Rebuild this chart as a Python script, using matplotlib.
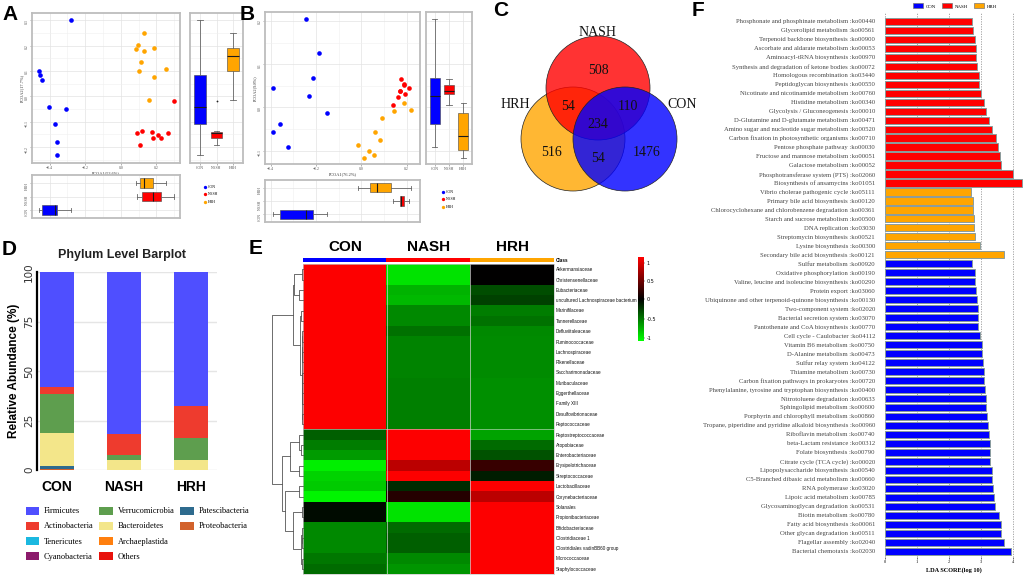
import numpy as np
import matplotlib
matplotlib.use("Agg")
import matplotlib.pyplot as plt
from matplotlib.patches import Circle, Patch
from matplotlib.lines import Line2D
from matplotlib.colors import LinearSegmentedColormap, ListedColormap, TwoSlopeNorm
from matplotlib.ticker import AutoMinorLocator

W, H = 1024, 576
SERIF = ["Liberation Serif", "DejaVu Serif"]
SANS = ["Liberation Sans", "DejaVu Sans"]

groups = ["CON", "NASH", "HRH"]
group_colors = ["#0000FF", "#FF0000", "#FFA500"]

# A: PCoA, first data set
a_con_x = [-0.278, -0.458, -0.452, -0.443, -0.402, -0.310, -0.368, -0.357, -0.357]
a_con_y = [0.300, 0.099, 0.086, 0.064, -0.041, -0.049, -0.108, -0.180, -0.230]
a_nash_x = [0.299, 0.093, 0.120, 0.107, 0.174, 0.209, 0.183, 0.226, 0.266]
a_nash_y = [-0.020, -0.145, -0.136, -0.191, -0.139, -0.151, -0.166, -0.166, -0.146]
a_hrh_x = [0.133, 0.099, 0.084, 0.133, 0.189, 0.114, 0.103, 0.254, 0.189, 0.161]
a_hrh_y = [0.250, 0.203, 0.187, 0.178, 0.192, 0.137, 0.099, 0.109, 0.075, -0.013]

# B: PCoA, second data set
b_con_x = [-0.246, -0.188, -0.215, -0.390, -0.229, -0.150, -0.360, -0.390, -0.325]
b_con_y = [0.205, 0.125, 0.069, 0.044, 0.026, -0.012, -0.039, -0.058, -0.091]
b_nash_x = [0.175, 0.187, 0.189, 0.212, 0.169, 0.172, 0.194, 0.160, 0.141]
b_nash_y = [0.066, 0.054, 0.051, 0.045, 0.039, 0.038, 0.032, 0.025, 0.005]
b_hrh_x = [0.187, 0.219, 0.146, 0.090, 0.060, 0.081, -0.015, 0.035, 0.057, 0.013]
b_hrh_y = [0.011, -0.005, -0.009, -0.024, -0.058, -0.075, -0.088, -0.101, -0.110, -0.118]

# C: Venn counts
venn_sets = ["NASH", "HRH", "CON"]
only_nash, only_hrh, only_con = 508, 516, 1476
nash_hrh, nash_con, hrh_con, all_three = 54, 110, 54, 234

# D: phylum level relative abundance (%), order CON / NASH / HRH
phyla = ["Firmicutes", "Actinobacteria", "Tenericutes", "Cyanobacteria",
         "Verrucomicrobia", "Bacteroidetes", "Archaeplastida", "Others",
         "Patescibacteria", "Proteobacteria"]
phylum_colors = ["#4F4FFF", "#EE3B2E", "#1BB8E0", "#8B1A6B", "#5E9E4E",
                 "#F3E68A", "#FF7F0E", "#E8120C", "#2E6B8E", "#D2622C"]
firmicutes = [58.2, 82.0, 67.6]
actinobacteria = [3.4, 10.5, 16.4]
tenericutes = [0.0, 0.0, 0.0]
cyanobacteria = [0.0, 0.0, 0.0]
verrucomicrobia = [19.9, 2.5, 11.1]
bacteroidetes = [16.7, 4.9, 4.9]
archaeplastida = [0.0, 0.0, 0.0]
others = [0.0, 0.0, 0.0]
patescibacteria = [1.3, 0.0, 0.0]
proteobacteria = [0.5, 0.1, 0.0]

# E: family heatmap (row z-scores)
families = ["Akkermansiaceae", "Christensenellaceae", "Eubacteriaceae",
            "uncultured Lachnospiraceae bacterium", "Marinifilaceae", "Tannerellaceae",
            "Defluviitaleaceae", "Ruminococcaceae", "Lachnospiraceae", "Rikenellaceae",
            "Saccharimonadaceae", "Muribaculaceae", "Eggerthellaceae", "Family XIII",
            "Desulfovibrionaceae", "Peptococcaceae", "Peptostreptococcaceae", "Atopobiaceae",
            "Enterobacteriaceae", "Erysipelotrichaceae", "Streptococcaceae", "Lactobacillaceae",
            "Corynebacteriaceae", "Solanales", "Propionibacteriaceae", "Bifidobacteriaceae",
            "Clostridiaceae 1", "Clostridiales vadinBB60 group", "Micrococcaceae",
            "Staphylococcaceae"]
e_con = [1.15, 1.15, 1.15, 1.15, 1.15, 1.15, 1.15, 1.15, 1.15, 1.15, 1.15, 1.15, 1.15, 1.15, 1.15, 1.15,
         -0.40, -0.52, -0.65, -1.00, -0.88, -0.85, -1.02, -0.05, -0.05, -0.57, -0.57, -0.57, -0.50, -0.45]
e_nash = [-0.95, -0.95, -0.75, -0.77, -0.57, -0.57, -0.47, -0.55, -0.55, -0.55, -0.55, -0.53, -0.53, -0.53, -0.53, -0.53,
          1.15, 1.15, 1.15, 0.85, 1.15, -0.18, 0.17, -0.95, -0.95, -0.45, -0.40, -0.40, -0.57, -0.62]
e_hrh = [0.00, 0.00, -0.32, -0.27, -0.52, -0.48, -0.57, -0.58, -0.58, -0.58, -0.58, -0.60, -0.60, -0.60, -0.60, -0.60,
         -0.68, -0.45, -0.35, 0.25, -0.12, 1.15, 0.85, 1.15, 1.15, 1.15, 1.15, 1.15, 1.15, 1.15]
# row dendrogram as nested (height, left, right), leaves are row indices
row_tree = (88,
            (28, (25, (3, 0, 1), (10, 2, 3)),
                 (8, (6, 4, 5), (4, (3, (2, 6, 7), (2, 8, 9)),
                                 (4, (3, (2, 10, 11), (2, 12, 13)), (2, 14, 15))))),
            (60, (38, (10, 16, (6, 17, 18)), (12, 19, 20)),
                 (50, (12, 21, 22), (28, (3, 23, 24), (6, (4, 25, (2, 26, 27)), (4, 28, 29))))))

# F: LEfSe LDA scores
nash_paths = ["Phosphonate and phosphinate metabolism :ko00440", "Glycerolipid metabolism :ko00561",
              "Terpenoid backbone biosynthesis :ko00900", "Ascorbate and aldarate metabolism :ko00053",
              "Aminoacyl-tRNA biosynthesis :ko00970", "Synthesis and degradation of ketone bodies :ko00072",
              "Homologous recombination :ko03440", "Peptidoglycan biosynthesis :ko00550",
              "Nicotinate and nicotinamide metabolism :ko00760", "Histidine metabolism :ko00340",
              "Glycolysis / Gluconeogenesis :ko00010", "D-Glutamine and D-glutamate metabolism :ko00471",
              "Amino sugar and nucleotide sugar metabolism :ko00520",
              "Carbon fixation in photosynthetic organisms :ko00710", "Pentose phosphate pathway :ko00030",
              "Fructose and mannose metabolism :ko00051", "Galactose metabolism :ko00052",
              "Phosphotransferase system (PTS) :ko02060", "Biosynthesis of ansamycins :ko01051"]
nash_scores = [2.73, 2.76, 2.83, 2.86, 2.86, 2.89, 2.93, 2.96, 3.02, 3.11, 3.16, 3.25, 3.35, 3.49,
               3.55, 3.61, 3.63, 4.01, 4.29]
hrh_paths = ["Vibrio cholerae pathogenic cycle :ko05111", "Primary bile acid biosynthesis :ko00120",
             "Chlorocyclohexane and chlorobenzene degradation :ko00361",
             "Starch and sucrose metabolism :ko00500", "DNA replication :ko03030",
             "Streptomycin biosynthesis :ko00521", "Lysine biosynthesis :ko00300",
             "Secondary bile acid biosynthesis :ko00121"]
hrh_scores = [2.70, 2.75, 2.76, 2.78, 2.79, 2.81, 2.97, 3.71]
con_paths = ["Sulfur metabolism :ko00920", "Oxidative phosphorylation :ko00190",
             "Valine, leucine and isoleucine biosynthesis :ko00290", "Protein export :ko03060",
             "Ubiquinone and other terpenoid-quinone biosynthesis :ko00130",
             "Two-component system :ko02020", "Bacterial secretion system :ko03070",
             "Pantothenate and CoA biosynthesis :ko00770", "Cell cycle - Caulobacter :ko04112",
             "Vitamin B6 metabolism :ko00750", "D-Alanine metabolism :ko00473",
             "Sulfur relay system :ko04122", "Thiamine metabolism :ko00730",
             "Carbon fixation pathways in prokaryotes :ko00720",
             "Phenylalanine, tyrosine and tryptophan biosynthesis :ko00400",
             "Nitrotoluene degradation :ko00633", "Sphingolipid metabolism :ko00600",
             "Porphyrin and chlorophyll metabolism :ko00860",
             "Tropane, piperidine and pyridine alkaloid biosynthesis :ko00960",
             "Riboflavin metabolism :ko00740", "beta-Lactam resistance :ko00312",
             "Folate biosynthesis :ko00790", "Citrate cycle (TCA cycle) :ko00020",
             "Lipopolysaccharide biosynthesis :ko00540", "C5-Branched dibasic acid metabolism :ko00660",
             "RNA polymerase :ko03020", "Lipoic acid metabolism :ko00785",
             "Glycosaminoglycan degradation :ko00531", "Biotin metabolism :ko00780",
             "Fatty acid biosynthesis :ko00061", "Other glycan degradation :ko00511",
             "Flagellar assembly :ko02040", "Bacterial chemotaxis :ko02030"]
con_scores = [2.73, 2.83, 2.83, 2.84, 2.87, 2.91, 2.92, 2.92, 2.99, 3.03, 3.04, 3.07, 3.10, 3.11,
              3.13, 3.15, 3.17, 3.20, 3.22, 3.25, 3.29, 3.30, 3.30, 3.36, 3.36, 3.39, 3.42, 3.45,
              3.56, 3.63, 3.63, 3.74, 3.94]

fig = plt.figure(figsize=(10.24, 5.76), dpi=100)


def px_axes(x0, y0, x1, y1):
    return fig.add_axes([x0 / W, 1 - y1 / H, (x1 - x0) / W, (y1 - y0) / H])


def panel_label(x, y, s):
    fig.text(x / W, 1 - y / H, s, fontsize=15, fontweight="bold", family=SANS,
             ha="center", va="center")


def gg_style(ax):
    for s in ax.spines.values():
        s.set_color("#BDBDBD")
        s.set_linewidth(1.3)
    ax.grid(True, which="major", color="#E3E3E3", lw=0.5)
    ax.grid(True, which="minor", color="#F0F0F0", lw=0.4)
    ax.set_axisbelow(True)
    ax.tick_params(which="major", length=1.2, width=0.4, color="#777777",
                   labelsize=2.8, labelcolor="#555555", pad=1)
    ax.tick_params(which="minor", length=0)
    for t in ax.get_xticklabels() + ax.get_yticklabels():
        t.set_family(SERIF)


box_kw = dict(widths=0.7, patch_artist=True,
              medianprops=dict(color="#1a1a1a", lw=0.8),
              whiskerprops=dict(color="#666666", lw=0.6),
              capprops=dict(color="#666666", lw=0.6),
              boxprops=dict(edgecolor="#444444", lw=0.4),
              flierprops=dict(marker="o", ms=1.3, mfc="#222222", mec="none"))


def pcoa(xs, ys, frame, side, under, xlim, ylim, xticks, yticks, xlabel, ylabel, leg_xy):
    ax = px_axes(*frame)
    for gx, gy, c in zip(xs, ys, group_colors):
        ax.scatter(gx, gy, s=11, color=c, linewidths=0, zorder=3)
    ax.set_xlim(xlim)
    ax.set_ylim(ylim)
    ax.set_xticks(xticks)
    ax.set_yticks(yticks)
    ax.xaxis.set_minor_locator(AutoMinorLocator(2))
    ax.yaxis.set_minor_locator(AutoMinorLocator(2))
    ax.tick_params(axis="y", labelrotation=90)
    ax.set_xlabel(xlabel, fontsize=3.2, labelpad=1, family=SERIF, color="#333333")
    ax.set_ylabel(ylabel, fontsize=3.2, labelpad=1, family=SERIF, color="#333333")
    gg_style(ax)

    sx = px_axes(*side)
    b1 = sx.boxplot(ys, positions=[1, 2, 3], **box_kw)
    for p, c in zip(b1["boxes"], group_colors):
        p.set_facecolor(c)
    sx.set_ylim(ylim)
    sx.set_xlim(0.4, 3.6)
    sx.set_yticks(yticks)
    sx.set_yticklabels([])
    sx.set_xticks([1, 2, 3])
    sx.set_xticklabels(groups)
    sx.yaxis.set_minor_locator(AutoMinorLocator(2))
    gg_style(sx)
    sx.tick_params(axis="y", length=0)

    ux = px_axes(*under)
    b2 = ux.boxplot(xs, positions=[1, 2, 3], orientation="horizontal", **box_kw)
    for p, c in zip(b2["boxes"], group_colors):
        p.set_facecolor(c)
    ux.set_xlim(xlim)
    ux.set_ylim(0.4, 3.6)
    ux.set_xticks(xticks)
    ux.set_xticklabels([])
    ux.set_yticks([1, 2, 3])
    ux.set_yticklabels(groups)
    ux.xaxis.set_minor_locator(AutoMinorLocator(2))
    ux.tick_params(axis="y", labelrotation=90)
    gg_style(ux)
    ux.tick_params(axis="x", length=0)

    handles = [Line2D([], [], ls="", marker="o", ms=2.4, mfc=c, mec="none") for c in group_colors]
    fig.legend(handles, groups, loc="upper left",
               bbox_to_anchor=(leg_xy[0] / W, 1 - leg_xy[1] / H), frameon=False,
               prop=dict(family=SERIF, size=2.8), handlelength=0.8, handletextpad=0.5,
               labelspacing=0.9, borderpad=0)


# ---- A ----
panel_label(10, 14, "A")
pcoa([a_con_x, a_nash_x, a_hrh_x], [a_con_y, a_nash_y, a_hrh_y],
     (32, 13, 180, 163), (190, 13, 243, 163), (32, 175, 180, 218),
     (-0.499, 0.333), (-0.263, 0.329), [-0.4, -0.2, 0.0, 0.2],
     [-0.2, -0.1, 0.0, 0.1, 0.2, 0.3], "PCOA1(53.6%)", "PCOA2(17.7%)", (201, 183))

# ---- B ----
panel_label(247, 15, "B")
pcoa([b_con_x, b_nash_x, b_hrh_x], [b_con_y, b_nash_y, b_hrh_y],
     (265, 12, 420, 164), (426, 12, 472, 164), (265, 180, 420, 222),
     (-0.425, 0.259), (-0.131, 0.221), [-0.4, -0.2, 0.0, 0.2],
     [-0.1, 0.0, 0.1, 0.2], "PCOA1(76.2%)", "PCOA2(9.8%)", (439, 188))

# ---- C: Venn ----
panel_label(501, 11, "C")
vx = px_axes(500, 20, 700, 200)
vx.set_xlim(500, 700)
vx.set_ylim(200, 20)
vx.axis("off")
for (cx, cy), c in zip([(573, 139), (598, 88), (625, 139)], ["#FFA500", "#FF0000", "#0000FF"]):
    vx.add_patch(Circle((cx, cy), 52, facecolor=c, alpha=0.8, edgecolor="none"))
    vx.add_patch(Circle((cx, cy), 52, facecolor="none", edgecolor="#222222", lw=0.5))
venn_font = dict(family=SERIF, fontsize=10, ha="center", va="center", color="#111111")
vx.text(598, 32, venn_sets[0], **venn_font)
vx.text(515, 105, venn_sets[1], **venn_font)
vx.text(682, 105, venn_sets[2], **venn_font)
for (tx, ty), n in zip([(598, 71), (551, 153), (647, 153), (568, 107), (628, 107), (598, 159), (598, 124)],
                       [only_nash, only_hrh, only_con, nash_hrh, nash_con, hrh_con, all_three]):
    vx.text(tx, ty, str(n), **venn_font)

# ---- D: stacked bars ----
panel_label(9, 249, "D")
fig.text(122 / W, 1 - 255 / H, "Phylum Level Barplot", fontsize=9, fontweight="bold",
         family=SANS, ha="center", va="center", color="#222222")
dx = px_axes(37, 272, 217, 470)
series = {"Firmicutes": firmicutes, "Actinobacteria": actinobacteria, "Tenericutes": tenericutes,
          "Cyanobacteria": cyanobacteria, "Verrucomicrobia": verrucomicrobia,
          "Bacteroidetes": bacteroidetes, "Archaeplastida": archaeplastida, "Others": others,
          "Patescibacteria": patescibacteria, "Proteobacteria": proteobacteria}
stack_order = ["Proteobacteria", "Patescibacteria", "Others", "Cyanobacteria", "Tenericutes",
               "Archaeplastida", "Bacteroidetes", "Verrucomicrobia", "Actinobacteria", "Firmicutes"]
xpos = np.arange(len(groups))
bottom = np.zeros(len(groups))
for name in stack_order:
    vals = np.array(series[name])
    dx.bar(xpos, vals, width=0.5, bottom=bottom, color=phylum_colors[phyla.index(name)], zorder=2)
    bottom += vals
dx.set_xlim(-0.3, 2.39)
dx.set_ylim(0, 100)
dx.set_yticks([0, 25, 50, 75, 100])
dx.set_xticks(xpos)
dx.set_xticklabels(groups, fontsize=10, fontweight="bold", family=SANS)
dx.tick_params(axis="x", length=0, pad=7)
dx.tick_params(axis="y", length=0, labelsize=7.5, labelrotation=90, labelcolor="#333333", pad=2)
for t in dx.get_yticklabels():
    t.set_va("center")
dx.grid(True, axis="y", color="#E5E5E5", lw=1.0)
dx.set_axisbelow(True)
for s in ["top", "right", "bottom"]:
    dx.spines[s].set_visible(False)
dx.spines["left"].set_linewidth(1.6)
dx.set_ylabel("Relative Abundance (%)", fontsize=8.5, fontweight="bold", family=SANS, labelpad=3)

leg_handles = [Patch(facecolor=c, edgecolor="none") for c in phylum_colors]
leg_labels = list(phyla)
# two blank slots so the columns fill 4 / 4 / 2
leg_handles += [Patch(facecolor="none", edgecolor="none")] * 2
leg_labels += ["", ""]
fig.legend(leg_handles, leg_labels, loc="upper left", ncol=3,
           bbox_to_anchor=(18 / W, 1 - 499 / H), frameon=False,
           prop=dict(family=SERIF, size=6), handlelength=1.6, handleheight=1.1,
           handletextpad=0.6, labelspacing=0.75, columnspacing=0.7)

# ---- E: heatmap ----
panel_label(256, 248, "E")
hm = px_axes(303, 264, 554, 574)
mat = np.column_stack([e_con, e_nash, e_hrh])
gkr = LinearSegmentedColormap.from_list("gkr", ["#00FF00", "#000000", "#FF0000"])
norm = TwoSlopeNorm(vmin=-1.07, vcenter=0.0, vmax=1.16)
im = hm.imshow(mat, aspect="auto", cmap=gkr, norm=norm, interpolation="nearest")
hm.axvline(0.5, color="#D0D0D0", lw=0.5)
hm.axvline(1.5, color="#D0D0D0", lw=0.5)
hm.axhline(15.5, color="#D8D8D8", lw=0.4)
hm.set_xticks([])
hm.yaxis.tick_right()
hm.set_yticks(range(len(families)))
hm.set_yticklabels(families, fontsize=3.3, family=SANS, color="#111111")
hm.tick_params(axis="y", length=0, pad=1.5)
for s in hm.spines.values():
    s.set_color("#C8C8C8")
    s.set_linewidth(0.5)

cb = px_axes(303, 258, 554, 262)
cb.imshow([[0, 1, 2]], aspect="auto", cmap=ListedColormap(group_colors), interpolation="nearest")
cb.set_yticks([])
cb.xaxis.tick_top()
cb.set_xticks([0, 1, 2])
cb.set_xticklabels(groups, fontsize=11, fontweight="bold", family=SANS)
cb.tick_params(axis="x", length=0, pad=3)
for s in cb.spines.values():
    s.set_visible(False)
fig.text(556 / W, 1 - 260 / H, "Class", fontsize=3.3, family=SANS, fontweight="bold",
         ha="left", va="center")

dg = px_axes(272, 264, 303, 574)
dg.set_ylim(len(families) - 0.5, -0.5)
dg.set_xlim(row_tree[0], 0)
dg.axis("off")


def draw_tree(node):
    if isinstance(node, int):
        return float(node), 0.0
    h, left, right = node
    y1, h1 = draw_tree(left)
    y2, h2 = draw_tree(right)
    dg.plot([h1, h, h, h2], [y1, y1, y2, y2], color="#555555", lw=0.6, clip_on=False)
    return (y1 + y2) / 2, h


draw_tree(row_tree)

cbar_ax = px_axes(638, 257, 644, 341)
cbar = fig.colorbar(im, cax=cbar_ax, ticks=[-1, -0.5, 0, 0.5, 1])
cbar.ax.set_yticklabels(["-1", "-0.5", "0", "0.5", "1"])
cbar.ax.tick_params(labelsize=3.5, length=1, width=0.3, pad=1)
cbar.outline.set_visible(False)

# ---- F: LDA bars ----
panel_label(698, 11, "F")
f_labels = nash_paths + hrh_paths + con_paths
f_scores = nash_scores + hrh_scores + con_scores
f_colors = (["#FF0000"] * len(nash_paths) + ["#FFA500"] * len(hrh_paths)
            + ["#0000FF"] * len(con_paths))
fx = px_axes(884.7, 12, 1024, 557)
ypos = np.arange(len(f_labels))
fx.barh(ypos, f_scores, height=0.8, color=f_colors, edgecolor="#8A9C9C", lw=0.7, zorder=2)
fx.set_xlim(0, 4.35)
fx.set_ylim(59.65, -1.04)
fx.set_xticks([0, 1, 2, 3, 4])
fx.set_yticks(ypos)
fx.set_yticklabels(f_labels, fontsize=4.8, family=SERIF, color="#444444")
fx.tick_params(axis="y", length=0, pad=7)
fx.tick_params(axis="x", length=1.2, width=0.4, labelsize=3.2, pad=1)
for t in fx.get_xticklabels():
    t.set_family(SERIF)
fx.grid(True, axis="x", color="#9A9A9A", lw=0.6, ls=(0, (1.5, 1.5)))
fx.set_axisbelow(True)
for s in fx.spines.values():
    s.set_visible(False)
fx.set_xlabel("LDA SCORE(log 10)", fontsize=4.5, fontweight="bold", family=SERIF, labelpad=2)
f_handles = [Patch(facecolor=c, edgecolor="#777777", lw=0.5) for c in group_colors]
fig.legend(f_handles, groups, loc="upper left", ncol=3, bbox_to_anchor=(910 / W, 1 - 0 / H),
           frameon=False, prop=dict(family=SERIF, size=3.5), handlelength=2.0,
           handleheight=1.2, handletextpad=0.6, columnspacing=1.2, borderpad=0.2)

fig.savefig("out.png", dpi=100)
